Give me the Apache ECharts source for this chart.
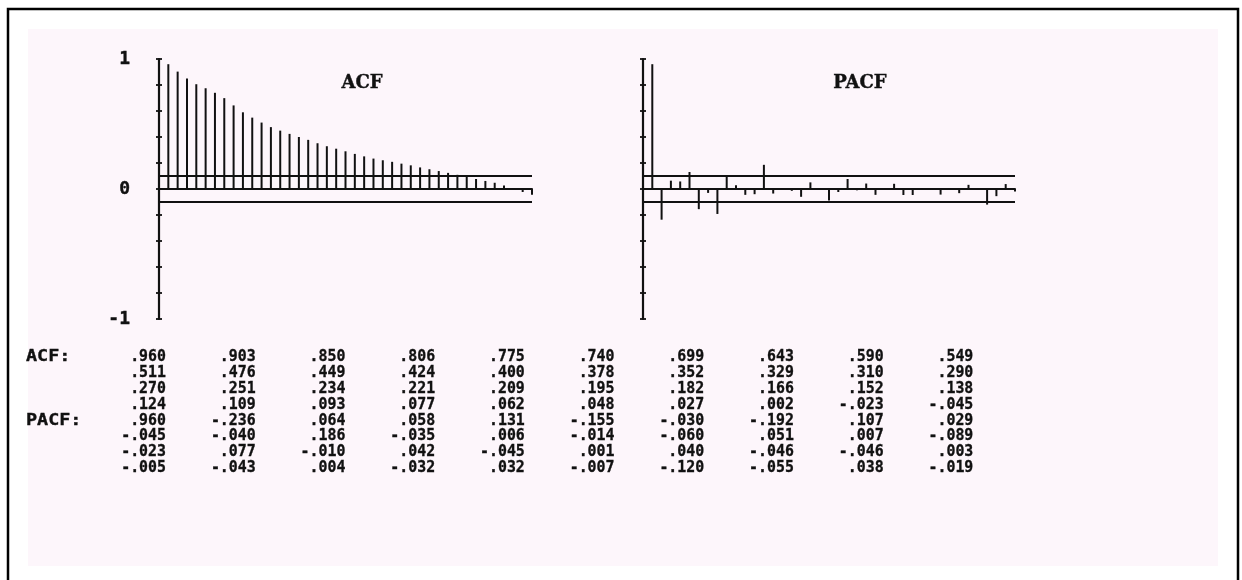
<!DOCTYPE html>
<html>
<head>
<meta charset="utf-8">
<script src="https://cdn.jsdelivr.net/npm/echarts@6/dist/echarts.min.js"></script>
<style>
html,body{margin:0;padding:0;background:#fff;}
#chart{width:1242px;height:580px;}
</style>
</head>
<body>
<div id="chart"></div>
<script>
// ---- data ----
const lags = [1,2,3,4,5,6,7,8,9,10,11,12,13,14,15,16,17,18,19,20,21,22,23,24,25,26,27,28,29,30,31,32,33,34,35,36,37,38,39,40];
const acfValues = [
  0.960, 0.903, 0.850, 0.806, 0.775, 0.740, 0.699, 0.643, 0.590, 0.549,
  0.511, 0.476, 0.449, 0.424, 0.400, 0.378, 0.352, 0.329, 0.310, 0.290,
  0.270, 0.251, 0.234, 0.221, 0.209, 0.195, 0.182, 0.166, 0.152, 0.138,
  0.124, 0.109, 0.093, 0.077, 0.062, 0.048, 0.027, 0.002, -0.023, -0.045
];
const pacfValues = [
  0.960, -0.236, 0.064, 0.058, 0.131, -0.155, -0.030, -0.192, 0.107, 0.029,
  -0.045, -0.040, 0.186, -0.035, 0.006, -0.014, -0.060, 0.051, 0.007, -0.089,
  -0.023, 0.077, -0.010, 0.042, -0.045, 0.001, 0.040, -0.046, -0.046, 0.003,
  -0.005, -0.043, 0.004, -0.032, 0.032, -0.007, -0.120, -0.055, 0.038, -0.019
];
const confLimit = 0.105;
const yTickLabels = ['-1', '0', '1'];
const panelTitles = ['ACF', 'PACF'];
const rowLabels = ['ACF:', 'PACF:'];

// ---- helpers ----
const INK = '#111111';
const MONO = '"DejaVu Sans Mono", monospace';
function fmt(v) {
  const s = String(Math.round(Math.abs(v) * 1000)).padStart(3, '0');
  return (v < 0 ? '-' : '') + '.' + s;
}
function stems(vals) { return lags.map((l, i) => [l, vals[i]]); }

const chart = echarts.init(document.getElementById('chart'), null, {renderer: 'canvas'});

const grids = [
  {left: 159, top: 59, width: 373, height: 260},
  {left: 643, top: 59, width: 372, height: 260}
];

const xAxes = grids.map((g, i) => ({
  type: 'value', gridIndex: i, min: 0, max: 40,
  axisLine: {show: true, onZero: true, lineStyle: {color: INK, width: 2}},
  axisTick: {show: false}, axisLabel: {show: false}, splitLine: {show: false}
}));

const yAxes = [];
grids.forEach((g, i) => {
  yAxes.push({
    type: 'value', gridIndex: i, min: -1, max: 1, interval: 0.2, position: 'left',
    axisLine: {show: true, onZero: false, lineStyle: {color: INK, width: 2.2}},
    axisTick: {show: true, length: 3, lineStyle: {color: INK, width: 1.8}},
    splitLine: {show: false},
    axisLabel: {
      show: i === 0, margin: 29, color: INK,
      fontFamily: MONO, fontWeight: 'bold', fontSize: 18,
      textBorderColor: INK, textBorderWidth: 0.4,
      formatter: function (v) {
        const r = Math.round(v * 10) / 10;
        return yTickLabels.indexOf(String(r)) >= 0 ? String(r) : '';
      }
    }
  });
  yAxes.push({
    type: 'value', gridIndex: i, min: -1, max: 1, interval: 0.2, position: 'left',
    axisLine: {show: false, onZero: false},
    axisTick: {show: true, inside: true, length: 3, lineStyle: {color: INK, width: 1.8}},
    splitLine: {show: false}, axisLabel: {show: false}
  });
});

function stemSeries(vals, idx) {
  return {
    type: 'bar', xAxisIndex: idx, yAxisIndex: idx * 2,
    data: stems(vals), barWidth: 2,
    itemStyle: {color: INK},
    silent: true,
    markLine: {
      silent: true, symbol: 'none', label: {show: false},
      lineStyle: {color: INK, width: 2, type: 'solid'},
      data: [{yAxis: confLimit}, {yAxis: -confLimit}]
    }
  };
}

// ---- graphic: frame, background, titles, table ----
const graphics = [
  {type: 'rect', z: -10, shape: {x: 8, y: 9, width: 1230, height: 600},
   style: {fill: '#ffffff', stroke: '#000000', lineWidth: 2.5}},
  {type: 'rect', z: -9, shape: {x: 28, y: 29, width: 1190, height: 537},
   style: {fill: '#fdf6fb'}},
];
const titleX = [362, 860];
panelTitles.forEach((t, i) => {
  graphics.push({type: 'text', z: 10, x: titleX[i], y: 83,
    style: {text: t, fill: INK, font: 'bold 18px "DejaVu Serif", serif',
            stroke: INK, lineWidth: 0.4,
            textAlign: 'center', textVerticalAlign: 'middle'}});
});

const rowY0 = 357, rowStep = 15.85;
const colX0 = 166, colStep = 89.7;
const tableFont = 'bold 16px ' + MONO;
const squeeze = 0.93;
[acfValues, pacfValues].forEach((vals, k) => {
  graphics.push({type: 'text', z: 10, x: 26, y: rowY0 + k * 4 * rowStep, scaleX: 1.15,
    style: {text: rowLabels[k], fill: INK, font: tableFont, stroke: INK, lineWidth: 0.35,
            textAlign: 'left', textVerticalAlign: 'middle'}});
  vals.forEach((v, i) => {
    const r = k * 4 + Math.floor(i / 10), c = i % 10;
    graphics.push({type: 'text', z: 10, x: colX0 + c * colStep, y: rowY0 + r * rowStep, scaleX: squeeze,
      style: {text: fmt(v), fill: INK, font: tableFont, stroke: INK, lineWidth: 0.35,
              textAlign: 'right', textVerticalAlign: 'middle'}});
  });
});

chart.setOption({
  animation: false,
  backgroundColor: '#ffffff',
  grid: grids,
  xAxis: xAxes,
  yAxis: yAxes,
  series: [stemSeries(acfValues, 0), stemSeries(pacfValues, 1)],
  graphic: graphics
});
</script>
</body>
</html>
